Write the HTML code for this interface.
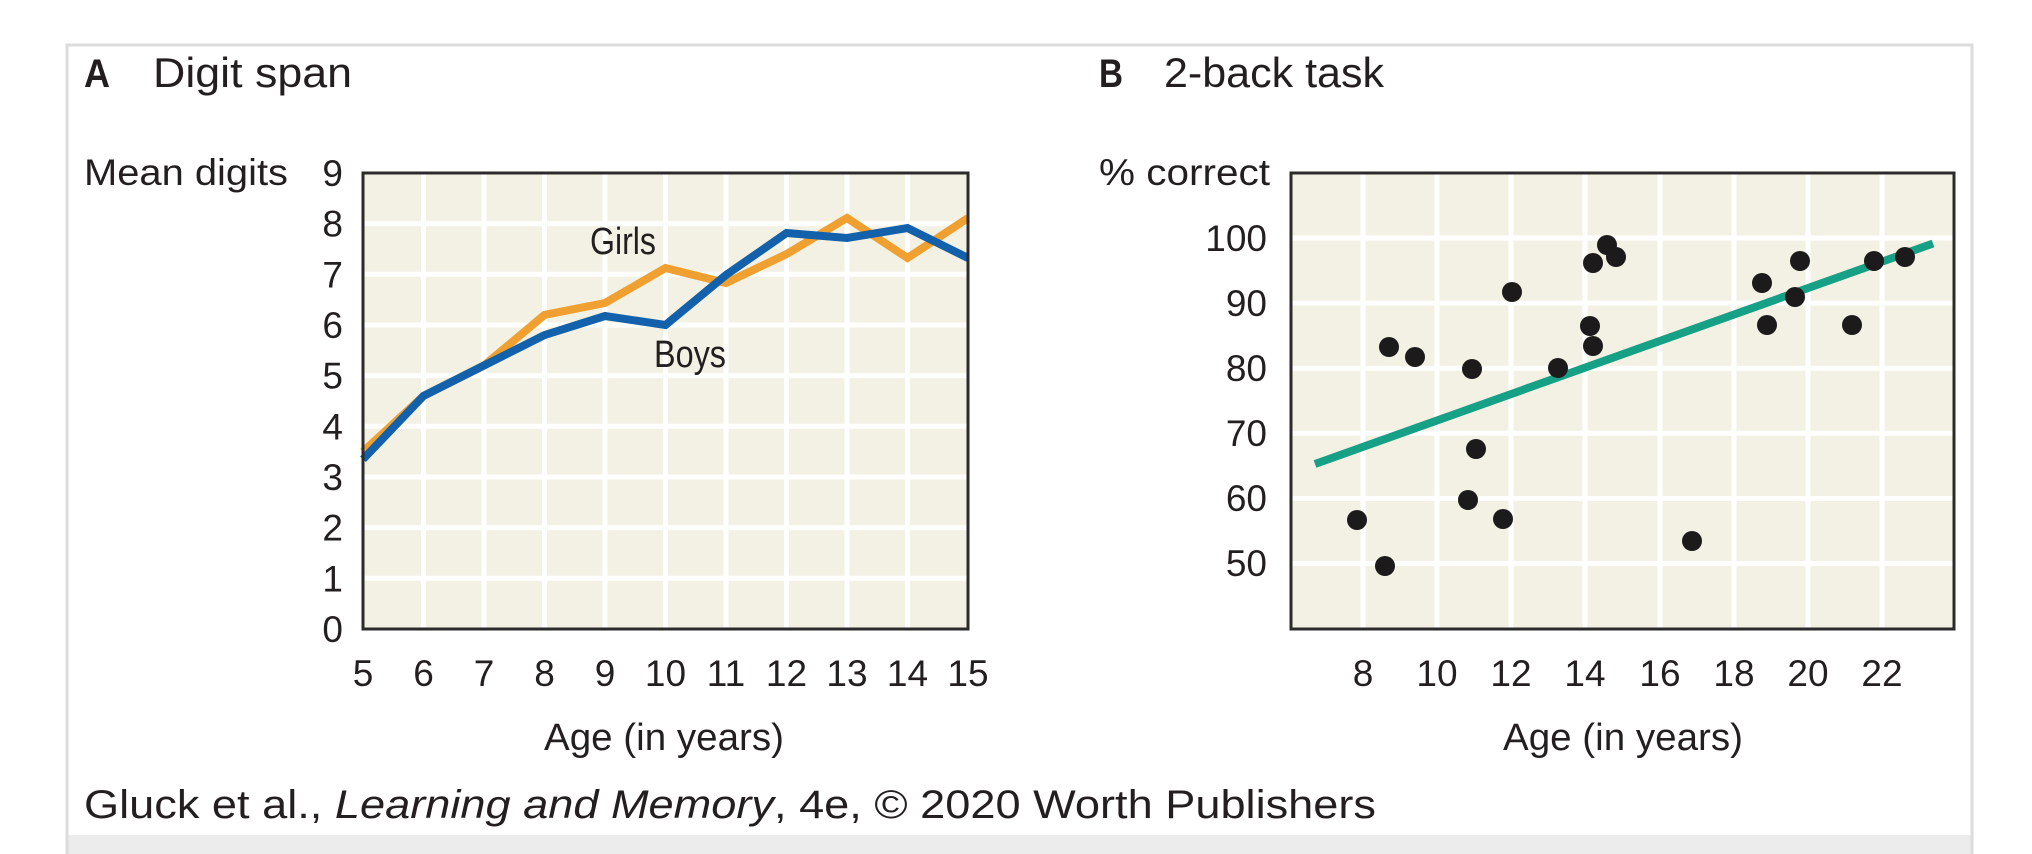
<!DOCTYPE html>
<html><head><meta charset="utf-8"><style>
html,body{margin:0;padding:0;background:#fff;}
svg{display:block;}
text{font-family:"Liberation Sans",sans-serif;fill:#231f20;}
</style></head><body>
<svg width="2032" height="854" viewBox="0 0 2032 854" xmlns="http://www.w3.org/2000/svg">
<rect x="0" y="0" width="2032" height="854" fill="#fff"/>
<rect x="67" y="835" width="1905" height="19" fill="#ececec"/>
<path d="M67 854 V45 H1972 V854" fill="none" stroke="#dcdcdc" stroke-width="3"/>

<!-- Titles -->
<text x="84" y="87" font-size="40" font-weight="bold" textLength="26" lengthAdjust="spacingAndGlyphs">A</text>
<text x="153" y="87" font-size="42" textLength="199" lengthAdjust="spacingAndGlyphs">Digit span</text>
<text x="1099" y="87" font-size="40" font-weight="bold" textLength="24" lengthAdjust="spacingAndGlyphs">B</text>
<text x="1164" y="87" font-size="42" textLength="220" lengthAdjust="spacingAndGlyphs">2-back task</text>

<!-- Left plot -->
<rect x="363" y="173" width="605" height="456" fill="#f3f1e3"/>
<g stroke="#fff" stroke-width="5">
<line x1="363" y1="223.7" x2="968" y2="223.7"/><line x1="363" y1="274.3" x2="968" y2="274.3"/>
<line x1="363" y1="325" x2="968" y2="325"/><line x1="363" y1="375.7" x2="968" y2="375.7"/>
<line x1="363" y1="426.3" x2="968" y2="426.3"/><line x1="363" y1="477" x2="968" y2="477"/>
<line x1="363" y1="527.7" x2="968" y2="527.7"/><line x1="363" y1="578.3" x2="968" y2="578.3"/>
<line x1="423.5" y1="173" x2="423.5" y2="629"/><line x1="484" y1="173" x2="484" y2="629"/>
<line x1="544.5" y1="173" x2="544.5" y2="629"/><line x1="605" y1="173" x2="605" y2="629"/>
<line x1="665.5" y1="173" x2="665.5" y2="629"/><line x1="726" y1="173" x2="726" y2="629"/>
<line x1="786.5" y1="173" x2="786.5" y2="629"/><line x1="847" y1="173" x2="847" y2="629"/>
<line x1="907.5" y1="173" x2="907.5" y2="629"/>
</g>
<polyline fill="none" stroke="#f0a030" stroke-width="8" stroke-linejoin="miter"
 points="363,451.7 423.5,395.9 484,365.5 544.5,314.9 605,303 665.5,268 726,283 786.5,254.1 847,218 907.5,258 968,218"/>
<polyline fill="none" stroke="#1360ab" stroke-width="8" stroke-linejoin="miter"
 points="363,459.3 423.5,395.9 484,365.5 544.5,335.1 605,316 665.5,325 726,275 786.5,233 847,238 907.5,228 968,258"/>
<path d="M363 173 V629 H968 V173 Z" fill="none" stroke="#2b2b2b" stroke-width="3"/>
<text x="590" y="254" font-size="38" textLength="66" lengthAdjust="spacingAndGlyphs">Girls</text>
<text x="654" y="367" font-size="38" textLength="72" lengthAdjust="spacingAndGlyphs">Boys</text>

<text x="84" y="185" font-size="37" textLength="204" lengthAdjust="spacingAndGlyphs">Mean digits</text>
<g font-size="37" text-anchor="end">
<text x="343" y="186">9</text><text x="343" y="236.7">8</text><text x="343" y="287.3">7</text>
<text x="343" y="338">6</text><text x="343" y="388.7">5</text><text x="343" y="439.3">4</text>
<text x="343" y="490">3</text><text x="343" y="540.7">2</text><text x="343" y="591.3">1</text>
<text x="343" y="642">0</text>
</g>
<g font-size="37" text-anchor="middle">
<text x="363" y="686">5</text><text x="423.5" y="686">6</text><text x="484" y="686">7</text>
<text x="544.5" y="686">8</text><text x="605" y="686">9</text><text x="665.5" y="686">10</text>
<text x="726" y="686">11</text><text x="786.5" y="686">12</text><text x="847" y="686">13</text>
<text x="907.5" y="686">14</text><text x="968" y="686">15</text>
</g>
<text x="544" y="750" font-size="38" textLength="240" lengthAdjust="spacingAndGlyphs">Age (in years)</text>

<!-- Right plot -->
<rect x="1291" y="173" width="663" height="456" fill="#f3f1e3"/>
<g stroke="#fff" stroke-width="5">
<line x1="1291" y1="238" x2="1954" y2="238"/><line x1="1291" y1="303.1" x2="1954" y2="303.1"/>
<line x1="1291" y1="368.2" x2="1954" y2="368.2"/><line x1="1291" y1="433.3" x2="1954" y2="433.3"/>
<line x1="1291" y1="498.4" x2="1954" y2="498.4"/><line x1="1291" y1="563.5" x2="1954" y2="563.5"/>
<line x1="1363" y1="173" x2="1363" y2="629"/><line x1="1437" y1="173" x2="1437" y2="629"/>
<line x1="1511" y1="173" x2="1511" y2="629"/><line x1="1585" y1="173" x2="1585" y2="629"/>
<line x1="1660" y1="173" x2="1660" y2="629"/><line x1="1734" y1="173" x2="1734" y2="629"/>
<line x1="1808" y1="173" x2="1808" y2="629"/><line x1="1882" y1="173" x2="1882" y2="629"/>
</g>
<line x1="1315" y1="464" x2="1933" y2="243.5" stroke="#16a085" stroke-width="8"/>
<g fill="#1c1a1a">
<circle cx="1357" cy="520" r="10"/><circle cx="1385" cy="566" r="10"/>
<circle cx="1389" cy="347" r="10"/><circle cx="1415" cy="357" r="10"/>
<circle cx="1472" cy="369" r="10"/><circle cx="1476" cy="449" r="10"/>
<circle cx="1468" cy="500" r="10"/><circle cx="1503" cy="519" r="10"/>
<circle cx="1512" cy="292" r="10"/><circle cx="1558" cy="368" r="10"/>
<circle cx="1593" cy="263" r="10"/><circle cx="1590" cy="326" r="10"/>
<circle cx="1593" cy="346" r="10"/><circle cx="1607" cy="245" r="10"/>
<circle cx="1616" cy="257" r="10"/><circle cx="1692" cy="541" r="10"/>
<circle cx="1762" cy="283" r="10"/><circle cx="1767" cy="325" r="10"/>
<circle cx="1795" cy="297" r="10"/><circle cx="1800" cy="261" r="10"/>
<circle cx="1852" cy="325" r="10"/><circle cx="1874" cy="261" r="10"/>
<circle cx="1905" cy="257" r="10"/>
</g>
<path d="M1291 173 V629 H1954 V173 Z" fill="none" stroke="#2b2b2b" stroke-width="3"/>

<text x="1099" y="185" font-size="37" textLength="171" lengthAdjust="spacingAndGlyphs">% correct</text>
<g font-size="37" text-anchor="end">
<text x="1267" y="251">100</text><text x="1267" y="316">90</text><text x="1267" y="381">80</text>
<text x="1267" y="446">70</text><text x="1267" y="511">60</text><text x="1267" y="576">50</text>
</g>
<g font-size="37" text-anchor="middle">
<text x="1363" y="686">8</text><text x="1437" y="686">10</text><text x="1511" y="686">12</text>
<text x="1585" y="686">14</text><text x="1660" y="686">16</text><text x="1734" y="686">18</text>
<text x="1808" y="686">20</text><text x="1882" y="686">22</text>
</g>
<text x="1503" y="750" font-size="38" textLength="240" lengthAdjust="spacingAndGlyphs">Age (in years)</text>

<!-- Caption -->
<text x="84" y="818" font-size="40" textLength="1292" lengthAdjust="spacingAndGlyphs">Gluck et al., <tspan font-style="italic">Learning and Memory</tspan>, 4e, © 2020 Worth Publishers</text>
</svg>
</body></html>
